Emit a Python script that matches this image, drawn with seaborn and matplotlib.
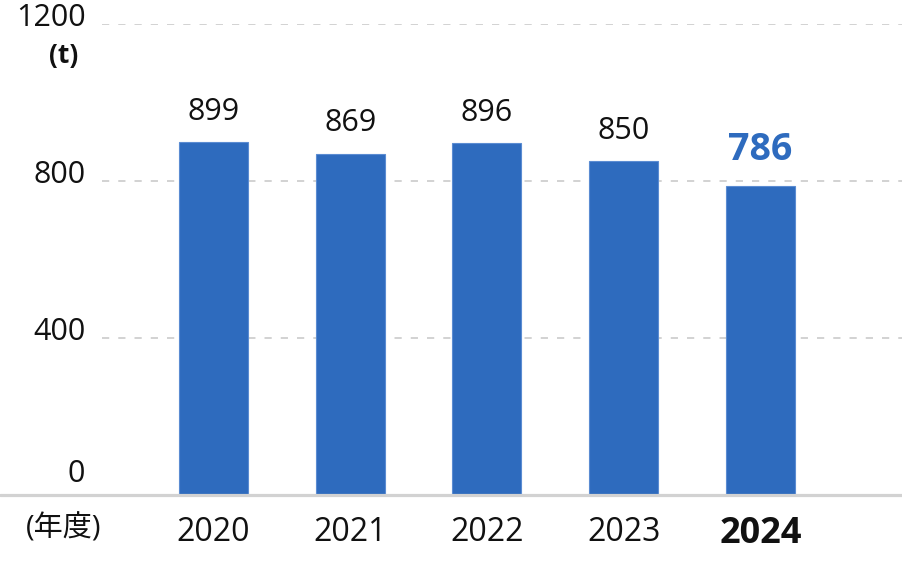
import matplotlib
matplotlib.use('Agg')
import matplotlib.pyplot as plt
import matplotlib.transforms as mtransforms
from matplotlib import font_manager
import pandas as pd
import seaborn as sns

# データ
years = ['2020', '2021', '2022', '2023', '2024']
values = [899, 869, 896, 850, 786]
y_ticks = [0, 400, 800, 1200]
unit_label = '(t)'
x_unit_label = '(年度)'

sns.set_style('white')
plt.rcParams['font.family'] = ['Open Sans', 'Noto Sans CJK JP', 'DejaVu Sans']

print(sorted({(f.name, f.weight) for f in font_manager.fontManager.ttflist
              if f.name in ('Open Sans', 'Noto Sans', 'Roboto', 'Lato')}))

blue = '#2e6bbe'
grid_c = '#cfcfcf'

df = pd.DataFrame({'year': years, 'value': values})

fig = plt.figure(figsize=(9.02, 5.70), dpi=100)
ax = fig.add_axes([102 / 902, 1 - 495 / 570, 800 / 902, (495 - 24) / 570])

sns.barplot(data=df, x='year', y='value', order=years, color=blue,
            width=0.505, saturation=1, edgecolor='#5b8cd2', linewidth=0.8,
            ax=ax, zorder=3)

ax.set_xlim(-0.815, 5.035)
ax.set_ylim(0, 1200)
sns.despine(ax=ax, left=True, bottom=True)
ax.set_xlabel('')
ax.set_ylabel('')

# 目盛線（破線）
for v in y_ticks[1:]:
    ax.axhline(v, color=grid_c, lw=1.3, ls=(0, (4, 5)), zorder=1)

# ベースライン（左端まで伸ばす）
base_tr = mtransforms.blended_transform_factory(fig.transFigure, ax.transData)
ax.plot([0, 1], [0, 0], transform=base_tr, color='#d2d2d2', lw=2.3,
        clip_on=False, zorder=4)

# y軸ラベル
ax.set_yticks([])
for v in y_ticks:
    dy = 15 if v == 0 else 4
    ax.annotate(str(v), xy=(0, v), xycoords=('axes fraction', 'data'),
                xytext=(-12, dy), textcoords='offset points',
                ha='right', va='center', fontsize=22, color='#111111')

# x軸ラベル
ax.set_xticks(range(len(years)))
ax.set_xticklabels(years, fontsize=23, color='#111111')
ax.tick_params(axis='x', length=0, pad=15)
last = ax.get_xticklabels()[-1]
last.set_fontweight('bold')
last.set_fontsize(26)

# 値ラベル
for i, v in enumerate(values):
    if i == len(values) - 1:
        ax.annotate(str(v), xy=(i, v), xytext=(0, 26), textcoords='offset points',
                    ha='center', va='center', fontsize=27, fontweight='bold',
                    color=blue)
    else:
        ax.annotate(str(v), xy=(i, v), xytext=(0, 22), textcoords='offset points',
                    ha='center', va='center', fontsize=22, color='#111111')

fig.text(64 / 902, 1 - 55 / 570, unit_label, ha='center', va='center',
         fontsize=19, fontweight='bold', color='#111111')
fig.text(64 / 902, 1 - 529 / 570, x_unit_label, ha='center', va='center',
         fontsize=21, color='#111111')

fig.savefig('out.png', dpi=100)
